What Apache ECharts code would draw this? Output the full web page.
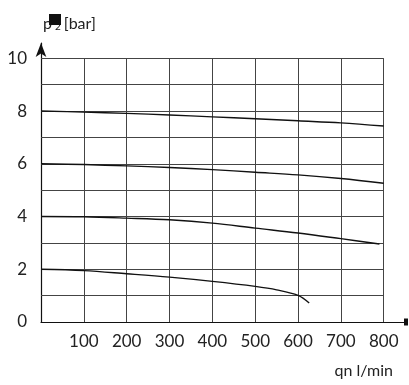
<!DOCTYPE html>
<html>
<head>
<meta charset="utf-8">
<script src="https://cdn.jsdelivr.net/npm/echarts@6/dist/echarts.min.js"></script>
<style>html,body{margin:0;padding:0;background:#fff;}#c{width:409px;height:385px;}</style>
</head>
<body>
<div id="c"></div>
<script>
// Data
var xGrid = [100, 200, 300, 400, 500, 600, 700, 800];
var yGrid = [1, 2, 3, 4, 5, 6, 7, 8, 9, 10];
var xTickLabels = [100, 200, 300, 400, 500, 600, 700, 800];
var yTickLabels = [0, 2, 4, 6, 8, 10];

var flow8 = [0, 100, 200, 300, 400, 500, 600, 700, 800];
var p8 = [8.0, 7.96, 7.91, 7.85, 7.78, 7.71, 7.63, 7.55, 7.43];
var flow6 = [0, 100, 200, 300, 400, 500, 600, 700, 800];
var p6 = [6.0, 5.97, 5.92, 5.86, 5.78, 5.68, 5.58, 5.44, 5.26];
var flow4 = [0, 100, 200, 300, 400, 500, 600, 700, 790];
var p4 = [4.0, 3.99, 3.94, 3.875, 3.75, 3.56, 3.375, 3.16, 2.96];
var flow2 = [0, 100, 200, 300, 400, 500, 550, 600, 626];
var p2 = [2.0, 1.95, 1.83, 1.70, 1.54, 1.35, 1.22, 1.01, 0.72];

function pairs(xs, ys) { return xs.map(function (x, i) { return [x, ys[i]]; }); }

var gridLines = [];
xGrid.forEach(function (x) { gridLines.push([{ coord: [x, 0] }, { coord: [x, 10] }]); });
yGrid.forEach(function (y) { gridLines.push([{ coord: [0, y] }, { coord: [800, y] }]); });

var FONT = 'Lato';
var chart = echarts.init(document.getElementById('c'), null, { renderer: 'canvas' });

function curve(xs, ys) {
  return {
    type: 'line', data: pairs(xs, ys), smooth: 0.35, symbol: 'none', z: 5,
    lineStyle: { color: '#111', width: 1.4 }, silent: true
  };
}

var s8 = curve(flow8, p8);
s8.markLine = {
  silent: true, symbol: ['none', 'none'], animation: false, z: 1,
  label: { show: false },
  lineStyle: { color: '#444', width: 1, type: 'solid' },
  emphasis: { disabled: true },
  data: gridLines
};

chart.setOption({
  animation: false,
  backgroundColor: '#fff',
  title: [
    {
      text: '{p|p}{s|2}{b|[bar]}',
      left: 38, top: 11,
      textStyle: {
        fontWeight: 'normal',
        rich: {
          p: { fontFamily: FONT, fontSize: 16, fontWeight: 'normal', color: '#222', verticalAlign: 'bottom' },
          s: { fontFamily: FONT, fontSize: 10, fontWeight: 'normal', color: '#222', padding: [0, 3, 0, 3], verticalAlign: 'bottom', lineHeight: 12 },
          b: { fontFamily: FONT, fontSize: 16, fontWeight: 'normal', color: '#222', verticalAlign: 'bottom' }
        }
      }
    },
    {
      text: 'qn l/min', right: 11, top: 358,
      textStyle: { fontFamily: FONT, fontSize: 16, fontWeight: 'normal', color: '#222' }
    }
  ],
  graphic: [
    { type: 'rect', shape: { x: 49, y: 14, width: 12, height: 11 }, style: { fill: '#111' }, z: 100 }
  ],
  grid: { left: 41, right: 2, top: 43, bottom: 63 },
  xAxis: {
    type: 'value', min: 0, max: 852, interval: 100,
    splitLine: { show: false },
    axisTick: { show: false },
    axisLine: { show: true, lineStyle: { color: '#111', width: 1.2 }, symbol: ['none', 'rect'], symbolSize: [7, 4] },
    axisLabel: {
      fontFamily: FONT, fontSize: 17, color: '#222', margin: 11,
      formatter: function (v) { return xTickLabels.indexOf(v) >= 0 ? String(v) : ''; }
    }
  },
  yAxis: {
    type: 'value', min: 0, max: 10.58, interval: 1,
    splitLine: { show: false },
    axisTick: { show: false },
    axisLine: { show: true, onZero: false, lineStyle: { color: '#111', width: 1.2 }, symbol: ['none', 'arrow'], symbolSize: [8, 14] },
    axisLabel: {
      fontFamily: FONT, fontSize: 17, color: '#222', margin: 14,
      formatter: function (v) { return yTickLabels.indexOf(v) >= 0 ? String(v) : ''; }
    }
  },
  series: [s8, curve(flow6, p6), curve(flow4, p4), curve(flow2, p2)]
});
</script>
</body>
</html>
